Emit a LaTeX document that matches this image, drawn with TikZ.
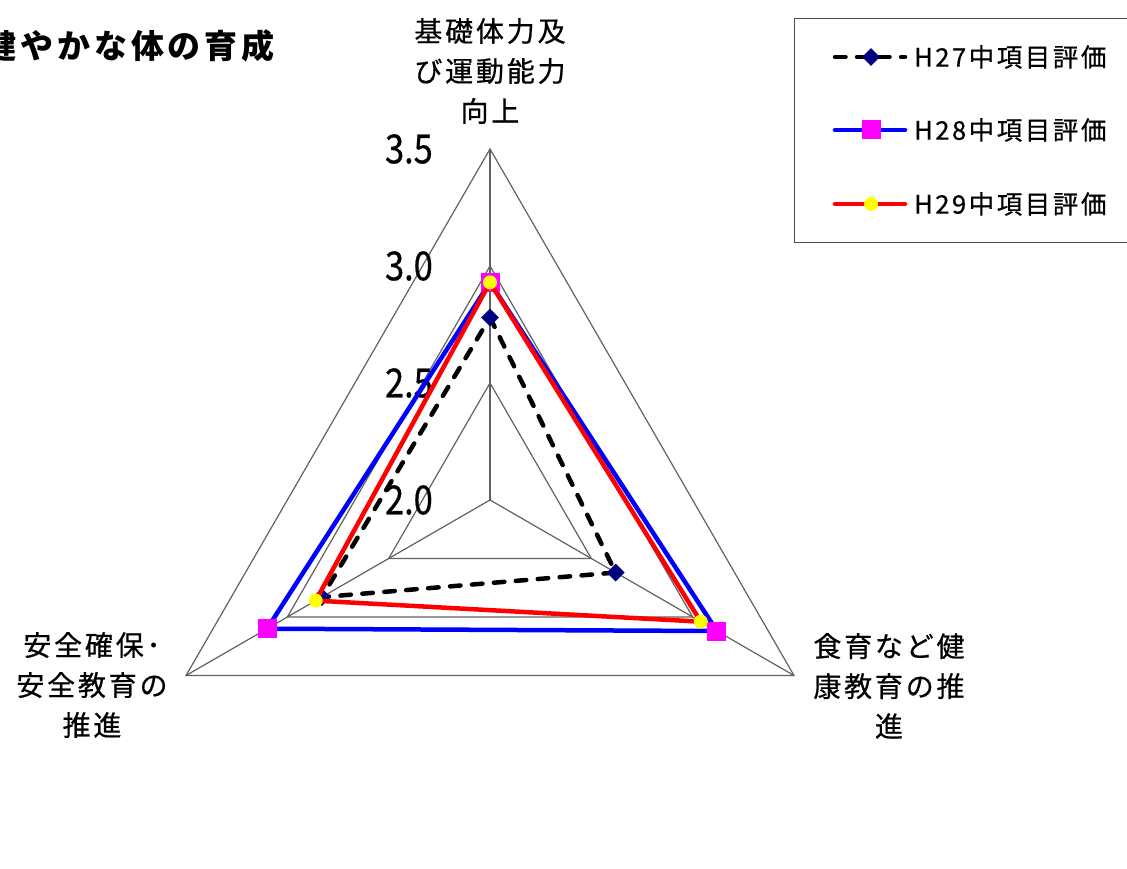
\documentclass[tikz,border=0pt]{standalone}
\usepackage{fontspec}
\usepackage{graphicx}
\setmainfont{Noto Sans CJK JP}[FakeBold=0.6]
\newfontfamily\jp{Noto Sans CJK JP}[LetterSpace=10, FakeBold=0.6]
\newfontfamily\jpt{Noto Sans CJK JP}[LetterSpace=12]
\usetikzlibrary{calc,shapes.geometric}
\definecolor{navy}{HTML}{000080}
\definecolor{mag}{HTML}{FF00FF}
\definecolor{blu}{HTML}{0000FF}
\definecolor{rd}{HTML}{FF0000}
\definecolor{yel}{HTML}{FFFF00}
\begin{document}
\begin{tikzpicture}[x=1pt,y=1pt,
  grid/.style={draw=black!62, line width=1.2pt},
  tick/.style={font=\fontsize{40}{40}\selectfont, anchor=east, inner sep=0pt},
  cat/.style={font=\jp\fontsize{28}{40}\selectfont, align=center, inner sep=0pt},
  legtext/.style={font=\jp\fontsize{25.5}{26}\selectfont, anchor=west, inner sep=0pt},
  s27/.style={line width=4.5pt, dash pattern=on 10.5pt off 11.5pt, line cap=round, line join=round, black},
  s28/.style={line width=4.5pt, blu, line join=miter},
  s29/.style={line width=4.5pt, rd, line join=miter},
  m27/.style={diamond, fill=navy, minimum size=18pt, inner sep=0pt},
  m28/.style={rectangle, fill=mag, minimum size=19pt, inner sep=0pt},
  m29/.style={circle, fill=yel, minimum size=14pt, inner sep=0pt},
]
\useasboundingbox (0,0) rectangle (1127,868);
\clip (0,0) rectangle (1127,868);
% title
\node[anchor=west, inner sep=0pt, font=\jpt\bfseries\fontsize{33}{33}\selectfont] (title) at (-17,822) {健やかな体の育成};
% grid
\coordinate (C) at (490,368);
\begin{scope}[shift={(C)}]
  \foreach \v in {2.5,3,3.5}{
    \draw[grid] (90:{(\v-2)*234}) -- (210:{(\v-2)*234}) -- (330:{(\v-2)*234}) -- cycle;
  }
  \coordinate (Vt) at (90:351);
  \coordinate (Vl) at (210:351);
  \coordinate (Vr) at (330:351);
  \draw[grid] (0,0) -- (Vt);
  \draw[grid] (0,0) -- (Vl);
  \draw[grid] (0,0) -- (Vr);
  % data coordinates
  \coordinate (a1) at (90:{(2.78-2)*234});
  \coordinate (a2) at (330:{(2.62-2)*234});
  \coordinate (a3) at (210:{(2.83-2)*234});
  \coordinate (b1) at (90:{(2.93-2)*234});
  \coordinate (b2) at (330:{(3.12-2)*234});
  \coordinate (b3) at (210:{(3.10-2)*234});
  \coordinate (c1) at (90:{(2.93-2)*234});
  \coordinate (c2) at (330:{(3.04-2)*234});
  \coordinate (c3) at (210:{(2.86-2)*234});
\end{scope}
% tick labels
\node[tick] (t20) at (433,368) {\scalebox{0.86}[1]{2.0}};
\node[tick] (t25) at (433,485) {\scalebox{0.86}[1]{2.5}};
\node[tick] (t30) at (433,602) {\scalebox{0.86}[1]{3.0}};
\node[tick] (t35) at (433,719) {\scalebox{0.86}[1]{3.5}};
% category labels
\node[cat] (ltop) at (490,797) {基礎体力及\\び運動能力\\向上};
\node[cat] (lleft) at (92,183) {安全確保･\\安全教育の\\推進};
\node[cat] (lright) at (889,182) {食育など健\\康教育の推\\進};
% series
\draw[s27] (a1) -- (a2) -- (a3) -- cycle;
\foreach \p in {a1,a2,a3} \node[m27] (m\p) at (\p) {};
\draw[s28] (b1) -- (b2) -- (b3) -- cycle;
\foreach \p in {b1,b2,b3} \node[m28] (m\p) at (\p) {};
\draw[s29] (c1) -- (c2) -- (c3) -- cycle;
\foreach \p in {c1,c2,c3} \node[m29] (m\p) at (\p) {};
% legend
\node[draw=black!70, line width=1.3pt, minimum width=350pt, minimum height=224pt, anchor=north west, inner sep=0pt] (legend) at (794,850) {};
\coordinate (l1a) at (835,811); \coordinate (l1b) at (905,811);
\coordinate (l2a) at (835,738); \coordinate (l2b) at (905,738);
\coordinate (l3a) at (835,664); \coordinate (l3b) at (905,664);
\draw[s27, dash phase=0pt] (l1a) -- (l1b);
\node[m27] (lm1) at (871,811) {};
\draw[s28, line cap=round] (l2a) -- (l2b);
\node[m28] (lm2) at (871,738) {};
\draw[s29, line cap=round] (l3a) -- (l3b);
\node[m29] (lm3) at (871,664) {};
\node[legtext] (lt1) at (914,811) {H27中項目評価};
\node[legtext] (lt2) at (914,738) {H28中項目評価};
\node[legtext] (lt3) at (914,664) {H29中項目評価};
\end{tikzpicture}
\end{document}
